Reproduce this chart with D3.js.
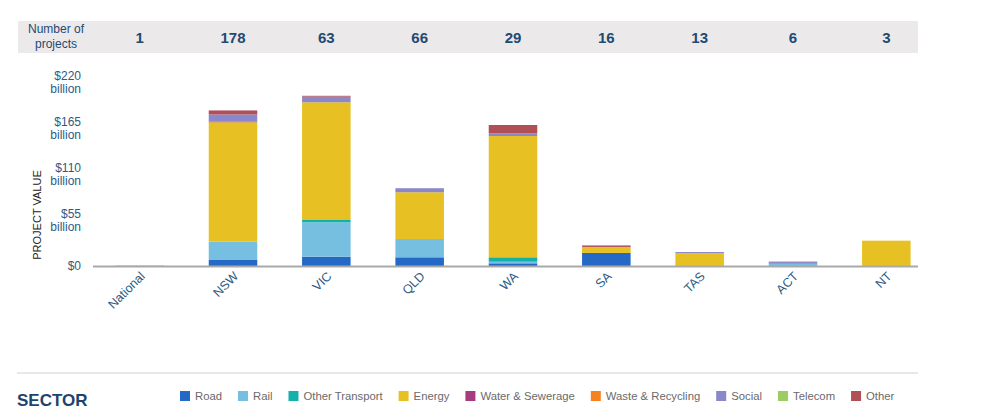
<!DOCTYPE html>
<html>
<head>
<meta charset="utf-8">
<script src="https://d3js.org/d3.v7.min.js"></script>
<style>
  body { margin: 0; background: #fff; }
  text { font-family: "Liberation Sans", Arial, sans-serif; }
</style>
</head>
<body>
<svg width="1000" height="414"></svg>
<script>
// data (billions of dollars)
const states   = ["National","NSW","VIC","QLD","WA","SA","TAS","ACT","NT"];
const projects = [1, 178, 63, 66, 29, 16, 13, 6, 3];
const sectors  = ["Road","Rail","Other Transport","Energy","Water & Sewerage","Waste & Recycling","Social","Telecom","Other"];
const colors   = ["#2369c5","#76bfe1","#16b0ab","#e7c124","#a63b7e","#f4821f","#8b87cb","#9dcc62","#b04f56"];

const road      = [0,   7.2, 11.1, 10.4, 3.2, 15.6,  0,   0,   0];
const rail      = [0,  21.9, 41.1, 21.9, 1.9,  0,    0,   2.5, 0];
const otherTr   = [0,   0,    2.8,  0,   5.3,  0,    0,   0,   0];
const energy    = [0, 142.8,140.8, 55.9,145,   6.6, 15.2, 0,  30.3];
const water     = [0,   0.6,  0,    0,   0,    0,    0,   0.6, 0];
const waste     = [0,   0,    0,    0,   0,    0,    0,   0,   0];
const social    = [0,   8.7,  6.7,  4.8, 3.2,  0.6,  1.5, 1.6, 0];
const telecom   = [0.6, 0,    0,    0,   0,    0,    0,   0,   0];
const other     = [0,   4.8,  1.0,  0,  10,    1.8,  0,   0.5, 0];

const yTicks = [0, 55, 110, 165, 220];

const series = [road, rail, otherTr, energy, water, waste, social, telecom, other];
const table = states.map((s, i) => {
  const row = {state: s};
  sectors.forEach((k, j) => row[k] = series[j][i]);
  return row;
});

const svg = d3.select("svg");
const dark = "#1f4a72";
const tickCol = "#2d5b86";

const x = d3.scaleBand().domain(states).range([93, 933]).paddingInner(0.48).paddingOuter(0.24);
const y = d3.scaleLinear().domain([0, 220]).range([266, 82]);

// header row
svg.append("rect").attr("x", 18).attr("y", 21).attr("width", 900).attr("height", 32).attr("fill", "#ebe9ea");
svg.append("text").attr("x", 56).attr("y", 33).attr("text-anchor", "middle")
  .attr("font-size", 12).attr("fill", dark).text("Number of");
svg.append("text").attr("x", 56).attr("y", 48).attr("text-anchor", "middle")
  .attr("font-size", 12).attr("fill", dark).text("projects");
svg.append("g").selectAll("text").data(states).join("text")
  .attr("x", d => x(d) + x.bandwidth() / 2)
  .attr("y", 43)
  .attr("text-anchor", "middle")
  .attr("font-size", 15).attr("font-weight", "bold").attr("fill", dark)
  .text((d, i) => projects[i]);

// stacked bars
const stack = d3.stack().keys(sectors)(table);
svg.append("g").selectAll("g").data(stack).join("g")
  .attr("fill", (d, i) => colors[i])
  .selectAll("rect").data(d => d).join("rect")
  .attr("x", d => x(d.data.state))
  .attr("width", x.bandwidth())
  .attr("y", d => y(d[1]))
  .attr("height", d => y(d[0]) - y(d[1]));

// y axis labels
const yg = svg.append("g");
yTicks.forEach(t => {
  const g = yg.append("text").attr("text-anchor", "end").attr("font-size", 12).attr("fill", tickCol);
  if (t === 0) {
    g.attr("x", 81).attr("y", y(t) + 4).text("$0");
  } else {
    g.append("tspan").attr("x", 81).attr("y", y(t) - 2).text("$" + t);
    g.append("tspan").attr("x", 81).attr("y", y(t) + 11).text("billion");
  }
});
svg.append("text")
  .attr("transform", "translate(41,215) rotate(-90)")
  .attr("text-anchor", "middle").attr("font-size", 11).attr("fill", "#222")
  .text("PROJECT VALUE");

// x axis
svg.append("line").attr("x1", 93).attr("x2", 918).attr("y1", 266.5).attr("y2", 266.5)
  .attr("stroke", "#a9a9a9").attr("stroke-width", 2);
svg.append("g").selectAll("text").data(states).join("text")
  .attr("transform", d => `translate(${x(d) + x.bandwidth() / 2 + 6},${277}) rotate(-45)`)
  .attr("text-anchor", "end").attr("font-size", 12.5).attr("fill", tickCol)
  .text(d => d);

// separator + legend
svg.append("line").attr("x1", 17).attr("x2", 918).attr("y1", 373).attr("y2", 373)
  .attr("stroke", "#e8e8e8").attr("stroke-width", 2);
svg.append("text").attr("x", 17).attr("y", 406).attr("font-size", 17).attr("font-weight", "bold")
  .attr("fill", "#1d446c").text("SECTOR");

let lx = 180;
const lg = svg.append("g");
sectors.forEach((s, i) => {
  lg.append("rect").attr("x", lx).attr("y", 391).attr("width", 10).attr("height", 10).attr("fill", colors[i]);
  const t = lg.append("text").attr("x", lx + 15).attr("y", 400).attr("font-size", 11.3)
    .attr("fill", "#6a6a6a").text(s);
  lx += 15 + t.node().getComputedTextLength() + 16;
});
</script>
</body>
</html>
